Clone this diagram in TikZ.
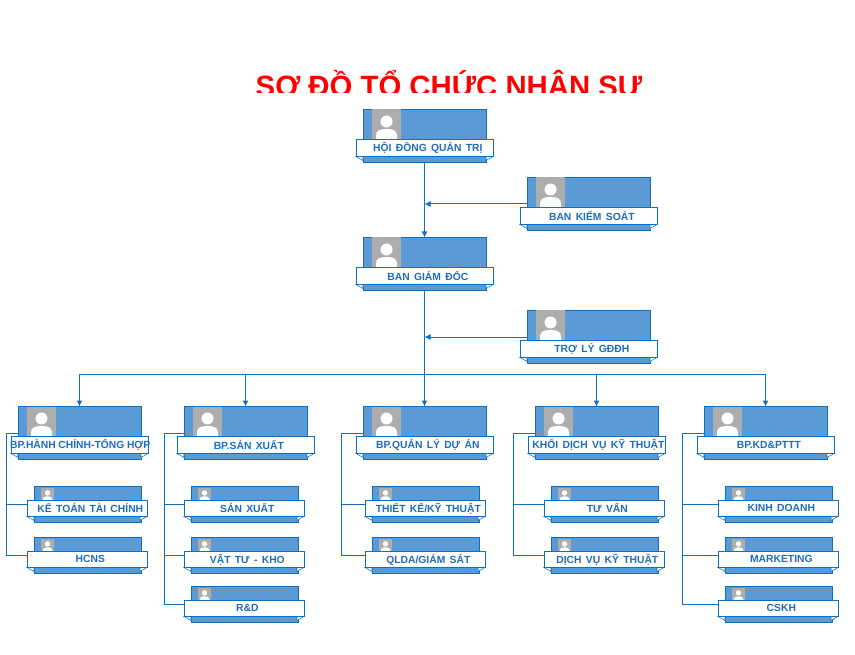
\documentclass[tikz,border=0pt]{standalone}
\usepackage{fontspec}
\setmainfont{Liberation Sans}[WordSpace=1.5]
\newfontfamily\titlefont{Liberation Sans}
\usetikzlibrary{arrows.meta}
\usetikzlibrary{backgrounds}

\definecolor{cardblue}{HTML}{5B9BD5}
\definecolor{lineblue}{HTML}{0F6FC0}
\definecolor{textblue}{HTML}{1F6CC0}
\definecolor{photogray}{HTML}{ADADAD}

\tikzset{
  bigbody/.style={draw=lineblue,fill=cardblue,line width=.75pt,inner sep=0,outer sep=0,
    minimum width=92.25pt,minimum height=39.75pt,anchor=north west},
  smallbody/.style={bigbody,minimum width=80.25pt,minimum height=27pt},
  bigbanner/.style={draw=lineblue,fill=white,line width=.75pt,inner sep=0,outer sep=0,
    minimum width=102.75pt,minimum height=12.75pt,anchor=north west,
    text=textblue,font=\bfseries\fontsize{7.75pt}{9pt}\selectfont},
  smallbanner/.style={bigbanner,minimum width=90pt,minimum height=12pt},
  fold/.style={draw=lineblue,fill=white,line width=.4pt},
  link/.style={draw=lineblue,line width=.75pt},
  tip/.style={-{Latex[length=4.5pt,width=4.5pt]}},
  person/.pic={
    \fill[photogray] (0,0) rectangle (29,30);
    \fill[white] (14.5,12) circle (6);
    \fill[white] (4,30) -- (4,26) .. controls (4,21) and (8,19.5) .. (14.5,19.5)
      .. controls (21,19.5) and (25,21) .. (25,26) -- (25,30) -- cycle;
  }
}

\newcommand{\bigcard}[5][5pt]{
  \node[bigbody] (#2) at (#3,#4) {};
  \pic at ([shift={(9,0)}]#2.north west) {person};
  \node[bigbanner] (#2b) at ([shift={(-7,30)}]#2.north west) {\makebox[0pt]{\kern#1\raisebox{.6pt}{#5}}};
  \draw[fold] (#2b.south west) -- ++(7,4) -- ++(0,-4) -- cycle;
  \draw[fold] (#2b.south east) -- ++(-7,4) -- ++(0,-4) -- cycle;
}
\newcommand{\smallcard}[5][5pt]{
  \node[smallbody] (#2) at (#3,#4) {};
  \pic[scale=.45] at ([shift={(7,1)}]#2.north west) {person};
  \node[smallbanner] (#2b) at ([shift={(-7,14)}]#2.north west) {\makebox[0pt]{\kern#1\raisebox{.6pt}{#5}}};
  \draw[fold] (#2b.south west) -- ++(7,4) -- ++(0,-4) -- cycle;
  \draw[fold] (#2b.south east) -- ++(-7,4) -- ++(0,-4) -- cycle;
}

\begin{document}
\begin{tikzpicture}[x=.75pt,y=-.75pt]
  \useasboundingbox (0,-.5) rectangle (855,654.5);

  \begin{scope}
    \clip (0,0) rectangle (855,92.5);
    \node[text=red,font=\titlefont\bfseries\fontsize{22pt}{26pt}\selectfont,inner sep=0] (title) at (449,85)
      {SƠ ĐỒ TỔ CHỨC NHÂN SỰ};
  \end{scope}

  \bigcard{hdqt}{363}{109}{HỘI ĐỒNG QUẢN TRỊ}
  \bigcard{bks}{527}{177}{BAN KIỂM SOÁT}
  \bigcard{bgd}{363}{237}{BAN GIÁM ĐỐC}
  \bigcard{trly}{527}{310}{TRỢ LÝ GĐĐH}

  \bigcard[1pt]{hc}{18}{406}{\spaceskip=.25em BP.HÀNH CHÍNH-TỔNG HỢP}
  \bigcard{sx}{184}{406}{BP.SẢN XUẤT}
  \bigcard{qlda}{363}{406}{BP.QUẢN LÝ DỰ ÁN}
  \bigcard[3pt]{kdv}{535}{406}{KHỐI DỊCH VỤ KỸ THUẬT}
  \bigcard{kd}{704}{406}{BP.KD\&PTTT}

  \smallcard{ketoan}{34}{486}{KẾ TOÁN TÀI CHÍNH}
  \smallcard{hcns}{34}{537}{HCNS}
  \smallcard{sanxuat}{191}{486}{SẢN XUẤT}
  \smallcard{vattu}{191}{537}{VẬT TƯ - KHO}
  \smallcard{rd}{191}{586}{R\&D}
  \smallcard{tk}{372}{486}{THIẾT KẾ/KỸ THUẬT}
  \smallcard{gs}{372}{537}{QLDA/GIÁM SÁT}
  \smallcard{tuvan}{551}{486}{TƯ VẤN}
  \smallcard{dvkt}{551}{537}{DỊCH VỤ KỸ THUẬT}
  \smallcard{kinhdoanh}{725}{486}{KINH DOANH}
  \smallcard{mkt}{725}{537}{MARKETING}
  \smallcard{cskh}{725}{586}{CSKH}

  \begin{scope}[on background layer]
    \draw[link,tip] (hdqt) -- (bgd);
    \draw[link,tip] (bks.west) -- (hdqt.south |- bks.west);
    \draw[link,tip] (bgd) -- (qlda);
    \draw[link,tip] (trly.west) -- (bgd.south |- trly.west);

    \path (bgd.south) ++(0,84) coordinate (bus);
    \draw[link,tip] (bus) -| (hc.north);
    \draw[link,tip] (bus) -| (sx.north);
    \draw[link,tip] (bus) -| (kdv.north);
    \draw[link,tip] (bus) -| (kd.north);

    \draw[link] (hc.west) -- ++(-12,0) |- (hcns.west);
    \draw[link] (hc.west) ++(-12,0) |- (ketoan.west);
    \draw[link] (sx.west) -- ++(-20,0) |- (rd.west);
    \draw[link] (sx.west) ++(-20,0) |- (sanxuat.west);
    \draw[link] (sx.west) ++(-20,0) |- (vattu.west);
    \draw[link] (qlda.west) -- ++(-22,0) |- (gs.west);
    \draw[link] (qlda.west) ++(-22,0) |- (tk.west);
    \draw[link] (kdv.west) -- ++(-22,0) |- (dvkt.west);
    \draw[link] (kdv.west) ++(-22,0) |- (tuvan.west);
    \draw[link] (kd.west) -- ++(-22,0) |- (cskh.west);
    \draw[link] (kd.west) ++(-22,0) |- (kinhdoanh.west);
    \draw[link] (kd.west) ++(-22,0) |- (mkt.west);
  \end{scope}
\end{tikzpicture}
\end{document}
